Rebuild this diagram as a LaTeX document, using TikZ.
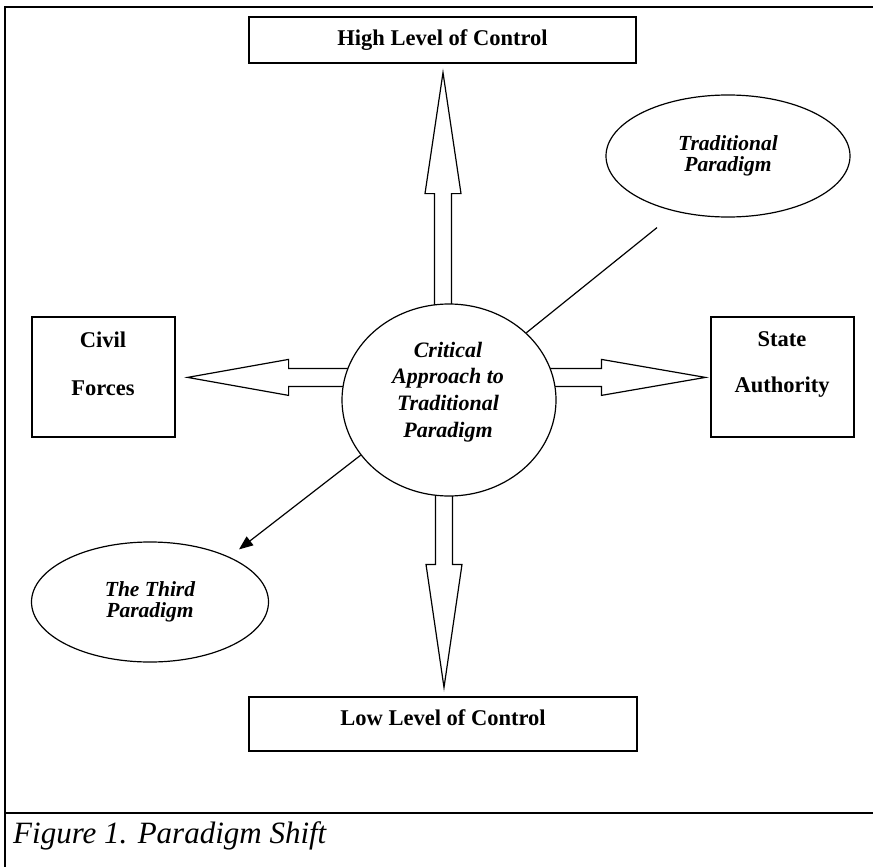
\documentclass[tikz,border=0pt]{standalone}
\usepackage{fontspec}
\setmainfont{Liberation Serif}
\usetikzlibrary{shapes.geometric,arrows.meta,calc}
\begin{document}
\begin{tikzpicture}[x=1pt,y=-1pt,
  box/.style={draw, line width=1.2pt, inner sep=0pt, fill=white},
  boxtext/.style={font=\fontsize{22.5}{27}\selectfont\bfseries, inner sep=0pt},
  oval/.style={draw, ellipse, line width=1.2pt, fill=white, inner sep=0pt, align=center},
  ovaltext/.style={font=\fontsize{21.5}{21}\selectfont\bfseries\itshape},
  blk/.style={draw, line width=1.2pt, fill=white, line join=miter},
  frameline/.style={line width=2.6pt},
  conn/.style={line width=1.2pt}]
\useasboundingbox (0,0) rectangle (873,867);
\fill[white] (0,0) rectangle (873,867);
% frame
\draw[frameline] (873,7) -- (5,7) -- (5,867);
\draw[frameline] (5,813) -- (873,813);
\node[anchor=base west, inner sep=0pt, font=\fontsize{31}{31}\selectfont\itshape] (cap) at (13,843) {Figure 1. Paradigm Shift};
% boxes
\node[box, boxtext, minimum width=387, minimum height=46] (high) at (442.5,40) {High Level of Control};
\node[box, boxtext, minimum width=388, minimum height=54, text depth=12pt] (low) at (443,724) {Low Level of Control};
\node[box, minimum width=143, minimum height=120] (civil) at (103.5,377) {};
\node[boxtext] (civilA) at (103,340) {Civil};
\node[boxtext] (civilB) at (103,388) {Forces};
\node[box, minimum width=143, minimum height=120] (state) at (782.5,377) {};
\node[boxtext] (stateA) at (782,339) {State};
\node[boxtext] (stateB) at (782,387) {Authority};
% block arrows
\coordinate (uptip) at ($(high.south)+(0.5,9)$);
\coordinate (dntip) at ($(low.north)+(1,-9)$);
\coordinate (lftip) at ($(civil.north east)+(12,61)$);
\coordinate (rttip) at ($(state.north west)+(-5,61)$);
\draw[blk] (uptip) -- ++(18,121) -- ++(-9.5,0) -- ++(0,140) -- ++(-17,0) -- ++(0,-140) -- ++(-9.5,0) -- cycle;
\draw[blk] (dntip) -- ++(18,-123) -- ++(-9.5,0) -- ++(0,-120) -- ++(-17,0) -- ++(0,120) -- ++(-9.5,0) -- cycle;
\draw[blk] (lftip) -- ++(101,-18) -- ++(0,9) -- ++(100,0) -- ++(0,18) -- ++(-100,0) -- ++(0,9) -- cycle;
\draw[blk] (rttip) -- ++(-104,-18) -- ++(0,9) -- ++(-100,0) -- ++(0,18) -- ++(100,0) -- ++(0,9) -- cycle;
% central circle
\node[oval, minimum width=214, minimum height=192] (c) at (449,400) {};
\node[align=center, font=\fontsize{22}{26.7}\selectfont\bfseries\itshape, inner sep=0pt] (ctext) at (448,392) {Critical\\Approach to\\Traditional\\Paradigm};
% side ellipses
\node[oval, ovaltext, minimum width=244, minimum height=122] (trad) at (728,156) {Traditional\\Paradigm};
\node[oval, ovaltext, minimum width=237, minimum height=120] (third) at (150,602) {The Third\\Paradigm};
% connectors
\coordinate (tradend) at ($(trad.south)+(-71,10)$);
\draw[conn] (tradend) -- (c.41.8);
\coordinate (thirdtip) at ($(third.north)+(89,8)$);
\draw[conn, -{Triangle[length=14pt,width=11pt]}] (c.212.8) -- (thirdtip);
\end{tikzpicture}
\end{document}
